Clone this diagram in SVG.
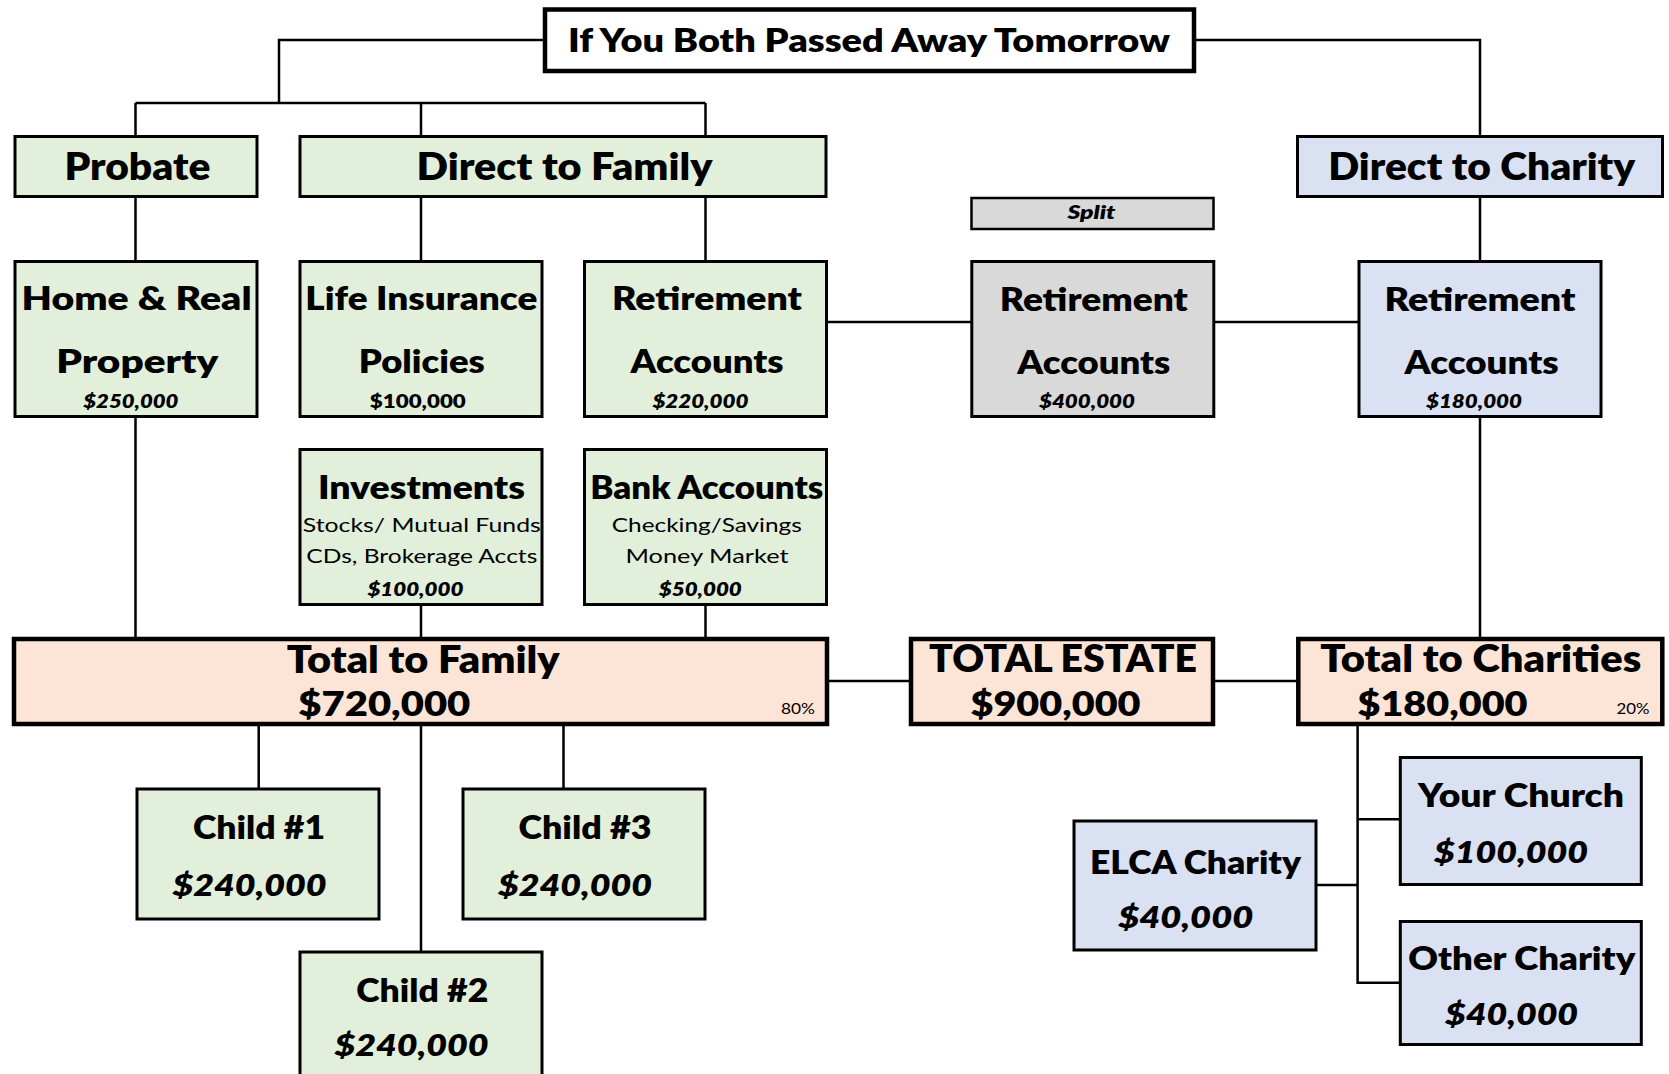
<svg xmlns="http://www.w3.org/2000/svg" width="1669" height="1074" viewBox="0 0 1669 1074">
<style>
text{font-family:Lato,"Liberation Sans",sans-serif;font-weight:800;text-anchor:middle;fill:#000}
.g{fill:#E2EFDA;stroke:#000;stroke-width:3}
.b{fill:#D9E1F2;stroke:#000;stroke-width:3}
.y{fill:#D9D9D9;stroke:#000;stroke-width:3}
.p{fill:#FCE4D6;stroke:#000;stroke-width:4.5}
.t{fill:#fff;stroke:#000;stroke-width:4.5}
.c{fill:none;stroke:#000;stroke-width:2.5}
.h1{font-size:37px}
.h2{font-size:32px}
.v{font-size:19px;font-style:italic}
.s{font-size:20px;font-weight:normal}
.big{font-size:34px}
.ch{font-size:32px}
.cv{font-size:31px;font-style:italic}
.pc{font-size:15px;font-weight:normal}
</style>
<rect width="1669" height="1074" fill="#fff"/>
<g id="connectors" class="c">
<path class="c" d="M545 40H279V103M135.5 103H705.5M135.5 103V136M421 103V136M705.5 103V136"/>
<path class="c" d="M1194 40H1480V136"/>
<path class="c" d="M135.5 197V261M421 197V261M705.5 197V261M1480 197V261"/>
<path class="c" d="M827 322H972M1214 322H1359"/>
<path class="c" d="M135.5 417V639M421 605V639M705.5 605V639M1480 417V639"/>
<path class="c" d="M827 681H911M1213 681H1298"/>
<path class="c" d="M258.7 724V789M421 724V952M563.5 724V789"/>
<path class="c" d="M1357.6 724V982.7H1400M1357.6 819.3H1400M1317 885H1357.6"/>
</g>
<g id="title"><rect class="t" x="545" y="9.5" width="649" height="61.5"/><text class="h2" x="869" y="51.7" textLength="602" lengthAdjust="spacingAndGlyphs">If You Both Passed Away Tomorrow</text></g>
<g id="probate"><rect class="g" x="15" y="136.5" width="242" height="60"/><text class="h1" x="137.4" y="180" textLength="146" lengthAdjust="spacingAndGlyphs">Probate</text></g>
<g id="direct-family"><rect class="g" x="300" y="136.5" width="526" height="60"/><text class="h1" x="564.5" y="180" textLength="296" lengthAdjust="spacingAndGlyphs">Direct to Family</text></g>
<g id="direct-charity"><rect class="b" x="1297.5" y="136.5" width="365" height="60"/><text class="h1" x="1481.7" y="180" textLength="307" lengthAdjust="spacingAndGlyphs">Direct to Charity</text></g>
<g id="home"><rect class="g" x="15" y="261.5" width="242" height="155"/><text class="h2" x="136.6" y="310" textLength="230" lengthAdjust="spacingAndGlyphs">Home &amp; Real</text><text class="h2" x="137.3" y="372.7" textLength="162" lengthAdjust="spacingAndGlyphs">Property</text><text class="v" x="130.8" y="408.3" textLength="95" lengthAdjust="spacingAndGlyphs">$250,000</text></g>
<g id="life"><rect class="g" x="300" y="261.5" width="242" height="155"/><text class="h2" x="421.3" y="310" textLength="232" lengthAdjust="spacingAndGlyphs">Life Insurance</text><text class="h2" x="421.8" y="372.7" textLength="126" lengthAdjust="spacingAndGlyphs">Policies</text><text style="font-size:19px" x="417.8" y="408.3" textLength="96" lengthAdjust="spacingAndGlyphs">$100,000</text></g>
<g id="retire-family"><rect class="g" x="584.5" y="261.5" width="242" height="155"/><text class="h2" x="707" y="310" textLength="190" lengthAdjust="spacingAndGlyphs">Retirement</text><text class="h2" x="707" y="372.7" textLength="153" lengthAdjust="spacingAndGlyphs">Accounts</text><text class="v" x="700.4" y="408.3" textLength="96" lengthAdjust="spacingAndGlyphs">$220,000</text></g>
<g id="split"><rect class="y" x="971.5" y="198" width="242" height="31" style="stroke-width:2.5"/><text style="font-size:18px;font-style:italic" x="1091.4" y="219" textLength="48" lengthAdjust="spacingAndGlyphs">Split</text></g>
<g id="retire-split"><rect class="y" x="971.8" y="261.5" width="242" height="155"/><text class="h2" x="1093.8" y="310.7" textLength="188" lengthAdjust="spacingAndGlyphs">Retirement</text><text class="h2" x="1093.8" y="373.5" textLength="153" lengthAdjust="spacingAndGlyphs">Accounts</text><text class="v" x="1087" y="408.3" textLength="96" lengthAdjust="spacingAndGlyphs">$400,000</text></g>
<g id="retire-charity"><rect class="b" x="1359" y="261.5" width="242" height="155"/><text class="h2" x="1480" y="310.7" textLength="191" lengthAdjust="spacingAndGlyphs">Retirement</text><text class="h2" x="1481.6" y="373.5" textLength="154" lengthAdjust="spacingAndGlyphs">Accounts</text><text class="v" x="1474" y="408.3" textLength="96" lengthAdjust="spacingAndGlyphs">$180,000</text></g>
<g id="investments"><rect class="g" x="300" y="449.5" width="242" height="155"/><text class="h2" x="421.4" y="499.3" textLength="207" lengthAdjust="spacingAndGlyphs">Investments</text><text class="s" x="421.8" y="531.7" textLength="238" lengthAdjust="spacingAndGlyphs">Stocks/ Mutual Funds</text><text class="s" x="421.8" y="563.3" textLength="231" lengthAdjust="spacingAndGlyphs">CDs, Brokerage Accts</text><text class="v" x="415.4" y="595.7" textLength="96" lengthAdjust="spacingAndGlyphs">$100,000</text></g>
<g id="bank"><rect class="g" x="584.5" y="449.5" width="242" height="155"/><text class="h2" x="706.8" y="499.3" textLength="233" lengthAdjust="spacingAndGlyphs">Bank Accounts</text><text class="s" x="706.8" y="531.7" textLength="190" lengthAdjust="spacingAndGlyphs">Checking/Savings</text><text class="s" x="707" y="563.3" textLength="163" lengthAdjust="spacingAndGlyphs">Money Market</text><text class="v" x="700.3" y="595.7" textLength="83" lengthAdjust="spacingAndGlyphs">$50,000</text></g>
<g id="total-family"><rect class="p" x="14" y="639" width="813" height="85"/><text class="h1" x="423.2" y="673" textLength="273" lengthAdjust="spacingAndGlyphs">Total to Family</text><text class="big" x="384.3" y="716" textLength="172" lengthAdjust="spacingAndGlyphs">$720,000</text><text class="pc" x="798" y="714" textLength="34" lengthAdjust="spacingAndGlyphs">80%</text></g>
<g id="total-estate"><rect class="p" x="911" y="639" width="302" height="85"/><text class="h1" x="1063" y="672.3" textLength="268" lengthAdjust="spacingAndGlyphs">TOTAL ESTATE</text><text class="big" x="1055.5" y="716" textLength="170" lengthAdjust="spacingAndGlyphs">$900,000</text></g>
<g id="total-charities"><rect class="p" x="1298.3" y="639" width="364" height="85"/><text class="h1" x="1480.8" y="672.3" textLength="321" lengthAdjust="spacingAndGlyphs">Total to Charities</text><text class="big" x="1442.5" y="716" textLength="170" lengthAdjust="spacingAndGlyphs">$180,000</text><text class="pc" x="1633" y="714" textLength="33" lengthAdjust="spacingAndGlyphs">20%</text></g>
<g id="child1"><rect class="g" x="137" y="789" width="242" height="130"/><text class="ch" x="259" y="839.3" textLength="132" lengthAdjust="spacingAndGlyphs">Child #1</text><text class="cv" x="249.6" y="896" textLength="154" lengthAdjust="spacingAndGlyphs">$240,000</text></g>
<g id="child3"><rect class="g" x="463" y="789" width="242" height="130"/><text class="ch" x="585" y="839.3" textLength="133" lengthAdjust="spacingAndGlyphs">Child #3</text><text class="cv" x="575" y="896" textLength="154" lengthAdjust="spacingAndGlyphs">$240,000</text></g>
<g id="child2"><rect class="g" x="300" y="952" width="242" height="140"/><text class="ch" x="422.3" y="1001.7" textLength="132" lengthAdjust="spacingAndGlyphs">Child #2</text><text class="cv" x="411.6" y="1056" textLength="154" lengthAdjust="spacingAndGlyphs">$240,000</text></g>
<g id="church"><rect class="b" x="1400.3" y="757.5" width="241" height="127"/><text class="ch" x="1521" y="806.7" textLength="206" lengthAdjust="spacingAndGlyphs">Your Church</text><text class="cv" x="1511" y="863.3" textLength="154" lengthAdjust="spacingAndGlyphs">$100,000</text></g>
<g id="elca"><rect class="b" x="1074" y="821" width="242" height="129"/><text class="ch" x="1195.5" y="874.3" textLength="211" lengthAdjust="spacingAndGlyphs">ELCA Charity</text><text class="cv" x="1185.7" y="928.3" textLength="135" lengthAdjust="spacingAndGlyphs">$40,000</text></g>
<g id="other"><rect class="b" x="1400.3" y="921.5" width="241" height="123"/><text class="ch" x="1521.8" y="970" textLength="227" lengthAdjust="spacingAndGlyphs">Other Charity</text><text class="cv" x="1511.6" y="1025" textLength="133" lengthAdjust="spacingAndGlyphs">$40,000</text></g>
</svg>
